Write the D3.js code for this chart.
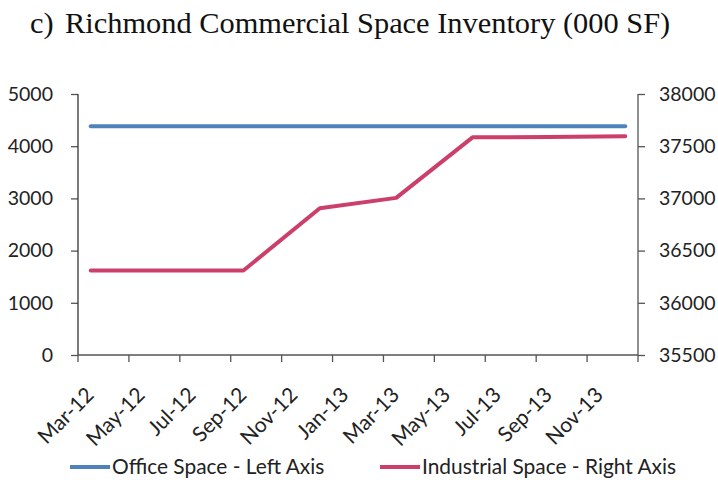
<!DOCTYPE html>
<html><head><meta charset="utf-8">
<script src="https://cdn.jsdelivr.net/npm/d3@7"></script>
<style>
html,body{margin:0;padding:0;background:#fff;}
svg{display:block;}
</style></head>
<body>
<script>
const months = ["Mar-12","Apr-12","May-12","Jun-12","Jul-12","Aug-12","Sep-12","Oct-12","Nov-12","Dec-12",
  "Jan-13","Feb-13","Mar-13","Apr-13","May-13","Jun-13","Jul-13","Aug-13","Sep-13","Oct-13","Nov-13","Dec-13"];
const quarters = ["Mar-12","Jun-12","Sep-12","Dec-12","Mar-13","Jun-13","Sep-13","Dec-13"];
const officeSpace = [4380,4380,4380,4380,4380,4380,4380,4380];
const industrialSpace = [36310,36310,36310,36905,37005,37585,37588,37595];
const leftTicks = [0,1000,2000,3000,4000,5000];
const rightTicks = [35500,36000,36500,37000,37500,38000];
const titleText = "Richmond Commercial Space Inventory (000 SF)";
const seriesNames = ["Office Space - Left Axis","Industrial Space - Right Axis"];
const colors = ["#4F81BD","#CC3F6B"];

const W = 718, H = 480;
const svg = d3.select("body").append("svg").attr("width", W).attr("height", H);
const sans = "Lato, 'Open Sans', sans-serif";
const serif = "'Liberation Serif', 'Times New Roman', serif";

// title
svg.append("text").attr("x", 30).attr("y", 33)
  .attr("font-family", serif).attr("font-size", 30.4).attr("fill", "#111")
  .text("c)");
svg.append("text").attr("x", 65).attr("y", 33)
  .attr("font-family", serif).attr("font-size", 30.4).attr("fill", "#111")
  .text(titleText);

const x = d3.scaleBand().domain(months).range([78, 638]);
const yL = d3.scaleLinear().domain([0, 5000]).range([355, 94]);
const yR = d3.scaleLinear().domain([35500, 38000]).range([355, 94]);
const cx = m => x(m) + x.bandwidth() / 2;

const axisColor = "#555";

// left axis
const gL = svg.append("g").attr("transform", "translate(78,0)")
  .call(d3.axisLeft(yL).tickValues(leftTicks).tickSize(7).tickPadding(18).tickFormat(d3.format("d")));
// right axis
const gR = svg.append("g").attr("transform", "translate(638,0)")
  .call(d3.axisRight(yR).tickValues(rightTicks).tickSize(7).tickPadding(14).tickFormat(d3.format("d")));
[gL, gR].forEach(g => {
  g.select(".domain").remove();
  g.selectAll(".tick line").attr("stroke", axisColor).attr("stroke-width", 1.3);
  g.selectAll(".tick text").attr("font-family", sans).attr("font-size", 19.5).attr("fill", "#222");
});
svg.append("line").attr("x1", 78).attr("x2", 78).attr("y1", yL(5000)).attr("y2", yL(0)).attr("stroke", "#333").attr("stroke-width", 1.3);
svg.append("line").attr("x1", 638).attr("x2", 638).attr("y1", yR(38000)).attr("y2", yR(35500)).attr("stroke", axisColor).attr("stroke-width", 1.3);

// x axis
svg.append("line").attr("x1", 78).attr("x2", 638).attr("y1", 355).attr("y2", 355).attr("stroke", axisColor).attr("stroke-width", 1.3);
const labelMonths = months.filter((m, i) => i % 2 === 0);
const tickXs = labelMonths.map(m => x(m)).concat([x.range()[1]]);
svg.append("g").selectAll("line").data(tickXs).join("line")
  .attr("x1", d => d).attr("x2", d => d).attr("y1", 355).attr("y2", 362)
  .attr("stroke", axisColor).attr("stroke-width", 1.3);
svg.append("g").selectAll("text").data(labelMonths).join("text")
  .attr("transform", m => `translate(${x(m) + 12},${391}) rotate(-45)`)
  .attr("text-anchor", "end").attr("dy", "0.35em")
  .attr("font-family", sans).attr("font-size", 21).attr("fill", "#222")
  .text(m => m);

// lines
const lineL = d3.line().x((d, i) => cx(quarters[i])).y(d => yL(d));
const lineR = d3.line().x((d, i) => cx(quarters[i])).y(d => yR(d));
svg.append("path").datum(officeSpace).attr("d", lineL).attr("fill", "none")
  .attr("stroke", colors[0]).attr("stroke-width", 4).attr("stroke-linecap", "round").attr("stroke-linejoin", "round");
svg.append("path").datum(industrialSpace).attr("d", lineR).attr("fill", "none")
  .attr("stroke", colors[1]).attr("stroke-width", 4).attr("stroke-linecap", "round").attr("stroke-linejoin", "round");

// legend
const legendX = [70, 380];
seriesNames.forEach((n, i) => {
  svg.append("line").attr("x1", legendX[i]).attr("x2", legendX[i] + 40).attr("y1", 467).attr("y2", 467)
    .attr("stroke", colors[i]).attr("stroke-width", 4);
  svg.append("text").attr("x", legendX[i] + 42).attr("y", 474)
    .attr("font-family", sans).attr("font-size", 20.9).attr("fill", "#222").text(n);
});
</script>
</body></html>
